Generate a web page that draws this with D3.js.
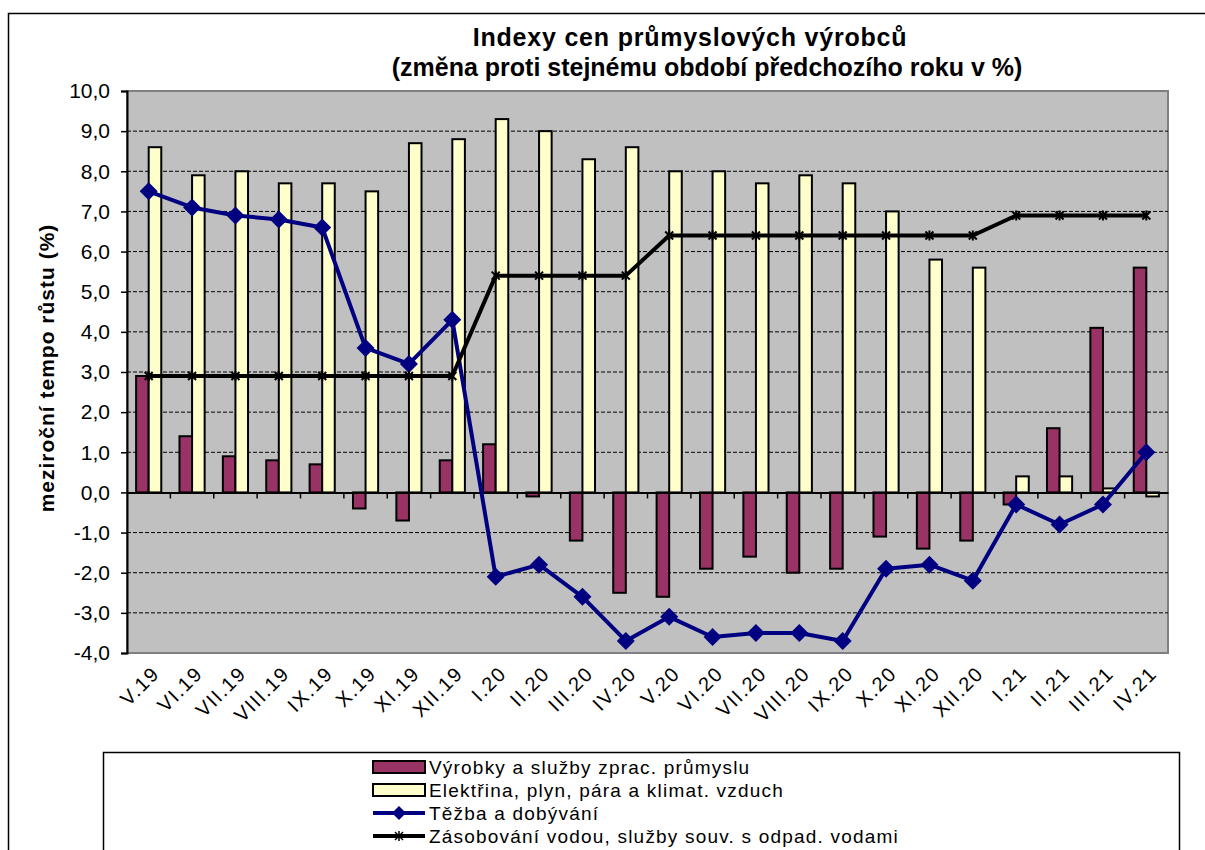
<!DOCTYPE html>
<meta charset="utf-8">
<style>
body { margin: 0; background: #fff; }
svg { font-family: Arial, "Liberation Sans", sans-serif; display: block; }
.grid line { stroke: #000; stroke-width: 1; stroke-dasharray: 4,2; }
.bar { stroke: #000; stroke-width: 2; }
</style>
<svg id="chart" width="1205" height="850"></svg>
<script src="https://d3js.org/d3.v7.min.js"></script>
<script>
var months = ["V.19","VI.19","VII.19","VIII.19","IX.19","X.19","XI.19","XII.19",
  "I.20","II.20","III.20","IV.20","V.20","VI.20","VII.20","VIII.20","IX.20","X.20","XI.20","XII.20",
  "I.21","II.21","III.21","IV.21"];

// Výrobky a služby zprac. průmyslu
var zprac = [2.9,1.4,0.9,0.8,0.7,-0.4,-0.7,0.8,1.2,-0.1,-1.2,-2.5,-2.6,-1.9,-1.6,-2.0,-1.9,-1.1,-1.4,-1.2,-0.3,1.6,4.1,5.6];
// Elektřina, plyn, pára a klimat. vzduch
var elektrina = [8.6,7.9,8.0,7.7,7.7,7.5,8.7,8.8,9.3,9.0,8.3,8.6,8.0,8.0,7.7,7.9,7.7,7.0,5.8,5.6,0.4,0.4,0.1,-0.1];
// Těžba a dobývání
var tezba = [7.5,7.1,6.9,6.8,6.6,3.6,3.2,4.3,-2.1,-1.8,-2.6,-3.7,-3.1,-3.6,-3.5,-3.5,-3.7,-1.9,-1.8,-2.2,-0.3,-0.8,-0.3,1.0];
// Zásobování vodou, služby souv. s odpad. vodami
var voda = [2.9,2.9,2.9,2.9,2.9,2.9,2.9,2.9,5.4,5.4,5.4,5.4,6.4,6.4,6.4,6.4,6.4,6.4,6.4,6.4,6.9,6.9,6.9,6.9];

var yTicks = [10,9,8,7,6,5,4,3,2,1,0,-1,-2,-3,-4];

var barSeries = [
  {name: "Výrobky a služby zprac. průmyslu", values: zprac, color: "#993366"},
  {name: "Elektřina, plyn, pára a klimat. vzduch", values: elektrina, color: "#ffffcc"}
];
var lineSeries = [
  {name: "Těžba a dobývání", values: tezba, color: "#000080", marker: "diamond"},
  {name: "Zásobování vodou, služby souv. s odpad. vodami", values: voda, color: "#000000", marker: "x"}
];

var svg = d3.select("#chart");
var plot = {left: 127, right: 1168, top: 91, bottom: 653};

// outer chart border
svg.append("rect")
    .attr("x", 8.5).attr("y", 13.5)
    .attr("width", 1220).attr("height", 860)
    .attr("fill", "#fff").attr("stroke", "#000").attr("stroke-width", 1.5);

var x = d3.scaleBand().domain(months).range([plot.left, plot.right]).padding(0);
var xs = d3.scaleBand().domain(barSeries.map(function(d) { return d.name; }))
    .range([x.bandwidth() * 0.21, x.bandwidth() * 0.79]);
var y = d3.scaleLinear().domain([-4, 10]).range([plot.bottom, plot.top]);

// plot background
svg.append("rect")
    .attr("x", plot.left).attr("y", plot.top)
    .attr("width", plot.right - plot.left).attr("height", plot.bottom - plot.top)
    .attr("fill", "#c0c0c0").attr("stroke", "#808080").attr("stroke-width", 2);

// dashed gridlines
svg.append("g").attr("class", "grid")
  .selectAll("line")
  .data(yTicks.filter(function(d) { return d !== 0 && d !== 10 && d !== -4; }))
  .enter().append("line")
    .attr("x1", plot.left).attr("x2", plot.right)
    .attr("y1", function(d) { return y(d); }).attr("y2", function(d) { return y(d); });

// bars
var groups = svg.append("g").selectAll("g")
  .data(barSeries)
  .enter().append("g");

groups.selectAll("rect")
  .data(function(s) { return s.values.map(function(v, i) { return {s: s, v: v, m: months[i]}; }); })
  .enter().append("rect")
    .attr("class", "bar")
    .attr("x", function(d) { return x(d.m) + xs(d.s.name); })
    .attr("width", xs.bandwidth())
    .attr("y", function(d) { return y(Math.max(0, d.v)); })
    .attr("height", function(d) { return Math.abs(y(d.v) - y(0)); })
    .attr("fill", function(d) { return d.s.color; });

// zero axis with category ticks
var xAxis = svg.append("g")
    .attr("transform", "translate(0," + y(0) + ")")
    .call(d3.axisBottom(x).tickSize(0).tickFormat(""));
xAxis.select(".domain").attr("stroke", "#000").attr("stroke-width", 2);
xAxis.selectAll(".sep")
  .data(months.slice(1))
  .enter().append("line")
    .attr("class", "sep")
    .attr("x1", function(d) { return x(d); }).attr("x2", function(d) { return x(d); })
    .attr("y1", 0).attr("y2", 6)
    .attr("stroke", "#000").attr("stroke-width", 1.5);

// y axis
var yAxis = svg.append("g")
    .attr("transform", "translate(" + plot.left + ",0)")
    .call(d3.axisLeft(y).tickValues(yTicks).tickSize(6).tickPadding(11)
      .tickFormat(function(d) { return d3.format(".1f")(d).replace(".", ",").replace("−", "-"); }));
yAxis.select(".domain").attr("stroke", "#000").attr("stroke-width", 2);
yAxis.selectAll(".tick line").attr("stroke", "#000").attr("stroke-width", 1.5);
yAxis.selectAll("text").attr("font-size", 21).attr("fill", "#000")
    .attr("font-family", "Arial, 'Liberation Sans', sans-serif");

// lines
var line = d3.line()
    .x(function(d, i) { return x(months[i]) + x.bandwidth() / 2; })
    .y(function(d) { return y(d); });

lineSeries.forEach(function(s) {
  svg.append("path")
      .datum(s.values)
      .attr("fill", "none")
      .attr("stroke", s.color)
      .attr("stroke-width", 4)
      .attr("stroke-linejoin", "round")
      .attr("d", line);
  var pts = svg.append("g").selectAll("path")
    .data(s.values)
    .enter().append("path")
      .attr("transform", function(d, i) {
        return "translate(" + (x(months[i]) + x.bandwidth() / 2) + "," + y(d) + ")";
      });
  if (s.marker === "diamond") {
    pts.attr("d", "M0,-9L9,0L0,9L-9,0Z").attr("fill", s.color);
  } else {
    pts.attr("d", "M-4,-4L4,4M-4,4L4,-4M0,-5L0,5").attr("stroke", s.color)
      .attr("stroke-width", 2).attr("fill", "none");
  }
});

// x labels
svg.append("g").selectAll("text")
  .data(months)
  .enter().append("text")
    .attr("transform", function(d) {
      return "translate(" + (x(d) + x.bandwidth() / 2 + 2) + ",665) rotate(-45)";
    })
    .attr("text-anchor", "end")
    .attr("dy", "0.7em")
    .attr("font-size", 20)
    .attr("letter-spacing", 1.5)
    .text(function(d) { return d; });

// title
svg.append("text")
    .attr("x", 690).attr("y", 46)
    .attr("text-anchor", "middle").attr("font-weight", "bold").attr("font-size", 25)
    .attr("letter-spacing", 0.8)
    .text("Indexy cen průmyslových výrobců");
svg.append("text")
    .attr("x", 707).attr("y", 76)
    .attr("text-anchor", "middle").attr("font-weight", "bold").attr("font-size", 25)
    .text("(změna proti stejnému období předchozího roku v %)");

// y title
svg.append("text")
    .attr("transform", "translate(54,368) rotate(-90)")
    .attr("text-anchor", "middle").attr("font-weight", "bold").attr("font-size", 21)
    .attr("letter-spacing", 1)
    .text("meziroční tempo růstu (%)");

// legend
svg.append("rect")
    .attr("x", 103.5).attr("y", 752.5)
    .attr("width", 1076).attr("height", 120)
    .attr("fill", "#fff").attr("stroke", "#000").attr("stroke-width", 1.5);

var legendY = d3.scalePoint()
    .domain(barSeries.concat(lineSeries).map(function(d) { return d.name; }))
    .range([767, 836]);

barSeries.forEach(function(s) {
  svg.append("rect")
      .attr("x", 373).attr("y", legendY(s.name) - 6)
      .attr("width", 52).attr("height", 12)
      .attr("fill", s.color).attr("stroke", "#000").attr("stroke-width", 2);
});
lineSeries.forEach(function(s) {
  var ly = legendY(s.name);
  svg.append("line")
      .attr("x1", 373).attr("x2", 425).attr("y1", ly).attr("y2", ly)
      .attr("stroke", s.color).attr("stroke-width", 4);
  if (s.marker === "diamond") {
    svg.append("path").attr("transform", "translate(399," + ly + ")")
        .attr("d", "M0,-7L7,0L0,7L-7,0Z").attr("fill", s.color);
  } else {
    svg.append("path").attr("transform", "translate(399," + ly + ")")
        .attr("d", "M-4,-4L4,4M-4,4L4,-4M0,-5L0,5").attr("stroke", s.color)
        .attr("stroke-width", 1.5);
  }
});
svg.append("g").selectAll("text")
  .data(barSeries.concat(lineSeries))
  .enter().append("text")
    .attr("x", 429)
    .attr("y", function(d) { return legendY(d.name); })
    .attr("dy", "0.35em")
    .attr("font-size", 19)
    .attr("letter-spacing", 1.2)
    .text(function(d) { return d.name; });
</script>
